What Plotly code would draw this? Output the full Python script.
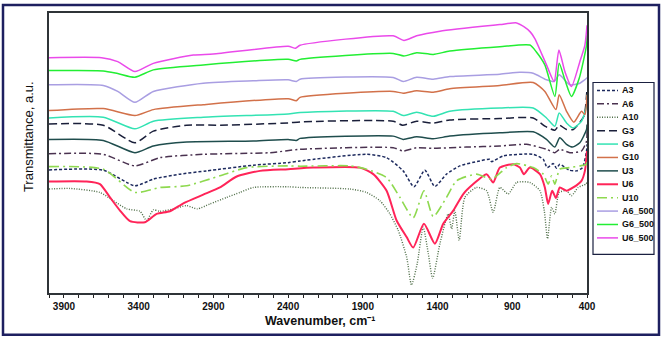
import plotly.graph_objects as go

# ---------------- data (wavenumber cm-1, transmittance a.u.) ----------------
U6_500_wn = [4000, 3648, 3540, 3425, 3302, 3034, 2901, 2400, 2350, 2320, 1697, 1625, 1540, 1384, 983, 871, 820, 780, 749, 671, 620, 588, 548, 504, 448, 414, 400]
U6_500_t = [244, 244, 240, 230, 238.3, 246.7, 247.7, 255.5, 253.5, 256.5, 266, 261.3, 266, 270.7, 277.3, 279, 275, 270, 263.3, 236.7, 220, 251.7, 230, 215, 240, 256.7, 276.7]

G6_500_wn = [4000, 3637, 3540, 3425, 3302, 2968, 2400, 2345, 2320, 1697, 1625, 1540, 1429, 1318, 983, 782, 740, 682, 615, 586, 548, 504, 452, 403, 400]
G6_500_t = [231, 230.7, 228, 224.3, 231.7, 236.7, 242.3, 240.7, 242.3, 248.3, 245.7, 249, 247.3, 250.7, 255, 256.7, 250, 236.7, 205, 238.3, 221.7, 205, 223.3, 256.7, 266.7]

A6_500_wn = [4000, 3637, 3540, 3425, 3302, 2968, 2633, 2400, 2345, 2320, 1697, 1630, 1540, 1429, 1318, 983, 849, 760, 671, 620, 586, 515, 448, 403, 400]
A6_500_t = [216.7, 216, 210, 199, 210, 218.3, 220.7, 221.7, 220, 222.3, 224, 220, 224.3, 222.3, 225, 227.3, 229.3, 228.3, 221.7, 220, 226.7, 216.7, 218.3, 223.3, 224]

G10_wn = [4000, 3637, 3425, 3302, 2968, 2400, 2345, 2320, 1697, 1630, 1540, 1429, 1318, 983, 760, 682, 608, 586, 537, 488, 437, 414, 400]
G10_t = [190.7, 192.7, 185.7, 191.7, 196.7, 202.7, 200.7, 204, 210, 208.3, 210.7, 209.3, 212.7, 216, 219, 210, 191.7, 206.7, 190, 179, 190, 186.7, 206.7]

G6_wn = [4000, 3637, 3425, 3302, 2968, 2400, 2320, 1697, 1630, 1540, 1429, 1318, 983, 760, 671, 615, 586, 537, 492, 437, 403, 400]
G6_t = [183.3, 184, 172.3, 180, 184, 187.3, 188.7, 190, 185.7, 189, 185, 190, 193.3, 193.3, 183.3, 175, 188.3, 178.3, 173.3, 180, 195, 206.7]

G3_wn = [4000, 3637, 3425, 3302, 3079, 2856, 2400, 2320, 1697, 1634, 1540, 1429, 1318, 983, 760, 682, 615, 586, 537, 492, 421, 400]
G3_t = [177.3, 176, 158.3, 170, 176, 176, 178.3, 179.3, 180, 176, 180, 178, 181.3, 182.7, 183.3, 175, 171, 176, 171.7, 171.7, 185, 213.3]

U3_wn = [4000, 3637, 3425, 3302, 3079, 2633, 2400, 2345, 2320, 1697, 1630, 1540, 1429, 1318, 983, 760, 671, 615, 582, 537, 497, 448, 403, 400]
U3_t = [161.7, 160.7, 148.3, 155, 159, 160, 161.7, 160.7, 162.7, 165, 161.7, 164.3, 162.3, 165, 168.3, 169.3, 161.7, 154, 163.3, 156.7, 154, 158.3, 171.7, 176.7]

A6_wn = [4000, 3637, 3425, 3257, 2968, 2521, 2320, 1697, 1630, 1540, 1429, 1207, 983, 805, 671, 615, 582, 515, 437, 403, 400]
A6_t = [147.3, 146.7, 135, 143.3, 146.7, 148.3, 151.7, 153.3, 150, 153.3, 152.7, 154, 155, 156.7, 151.7, 148.3, 151.7, 148.3, 150, 160, 170]

A3_wn = [4000, 3637, 3425, 3302, 3124, 2945, 2633, 2400, 2320, 1875, 1741, 1630, 1558, 1485, 1418, 1340, 1251, 1117, 1050, 1039, 961, 760, 693, 666, 626, 604, 582, 519, 470, 430, 403, 400]
A3_t = [131, 130.7, 115, 121.7, 126.7, 130, 135.7, 138.3, 140, 146.7, 143.3, 130, 114, 130.7, 114.3, 126.7, 135, 140, 141.7, 139.3, 145, 146.7, 141.7, 133.3, 137.3, 132.7, 136.7, 130.7, 130, 133.3, 150, 156.7]

U10_wn = [4000, 3637, 3425, 3257, 3079, 2856, 2678, 2400, 2320, 1986, 1875, 1741, 1652, 1563, 1491, 1429, 1340, 1273, 1139, 1039, 938, 871, 760, 693, 660, 637, 615, 582, 515, 448, 403, 400]
U10_t = [134.3, 131.7, 108.3, 113.3, 115, 125, 133.3, 135, 134.7, 135, 131.7, 123.3, 103.3, 82.7, 110, 84, 103.3, 120, 126.7, 121.7, 133.3, 137.3, 133.3, 126.7, 116.7, 125, 116.7, 131.7, 133.3, 135, 136.7, 143.3]

U6_wn = [4000, 3748, 3659, 3592, 3525, 3458, 3358, 3280, 3191, 3101, 2968, 2856, 2744, 2588, 2400, 2232, 1920, 1830, 1741, 1674, 1607, 1563, 1491, 1418, 1362, 1295, 1228, 1161, 1072, 1028, 983, 894, 849, 822, 782, 715, 682, 660, 633, 608, 582, 537, 492, 437, 414, 400]
U6_t = [119.3, 119.3, 116.7, 103.3, 90, 79.3, 78.3, 86.7, 89.3, 97.3, 106, 113.3, 124.3, 130, 131.7, 133.3, 133.3, 126.7, 110, 80, 63.3, 52.7, 76.7, 56.7, 76.7, 90, 106.7, 116.7, 126.7, 118.3, 133.3, 136.7, 133.3, 126.7, 133.3, 126.7, 113.3, 96.7, 110, 102.7, 113.3, 110, 113.3, 120, 130, 150]

A10_wn = [4000, 3860, 3659, 3570, 3480, 3391, 3347, 3302, 3257, 3168, 3079, 3008, 2923, 2811, 2722, 2633, 2400, 2320, 1986, 1875, 1786, 1719, 1663, 1607, 1574, 1536, 1496, 1462, 1433, 1384, 1329, 1306, 1284, 1255, 1217, 1139, 1072, 1028, 983, 927, 871, 782, 715, 686, 664, 637, 615, 586, 537, 504, 459, 408, 400]
A10_t = [111.7, 112.3, 108.3, 100, 91.7, 89.3, 80, 90.7, 89.3, 91.7, 95, 91.7, 96.7, 103.3, 108.3, 113.3, 114, 113.3, 111.7, 108.3, 100, 86.7, 70, 43.3, 15, 36.7, 73.3, 46.7, 21.7, 56.7, 86.7, 71.7, 90, 60, 103.3, 113.3, 110, 88.3, 113.3, 106.7, 118.3, 118.3, 110, 90, 61.7, 93.3, 86.7, 108.3, 110, 105, 113.3, 116.7, 118.3]

names = ["A3", "A6", "A10", "G3", "G6", "G10", "U3", "U6", "U10", "A6_500", "G6_500", "U6_500"]
x_data = [A3_wn, A6_wn, A10_wn, G3_wn, G6_wn, G10_wn, U3_wn, U6_wn, U10_wn, A6_500_wn, G6_500_wn, U6_500_wn]
y_data = [A3_t, A6_t, A10_t, G3_t, G6_t, G10_t, U3_t, U6_t, U10_t, A6_500_t, G6_500_t, U6_500_t]

# ---------------- styles ----------------
colors = ["#1d2a5e", "#4a3250", "#4f6e48", "#1a1f3a", "#33e3b3", "#d2714a",
          "#1f4d4d", "#ff2458", "#8ed94f", "#a99ee2", "#22ee33", "#ea4aea"]
dashes = ["3px,2px", "7px,3px,2px,3px", "1px,1.5px", "8px,4px", "solid", "solid",
          "solid", "solid", "10px,4px,2px,4px", "solid", "solid", "solid"]
widths = [1.5, 1.5, 1.4, 1.5, 1.5, 1.5, 1.5, 2.0, 1.6, 1.5, 1.5, 1.5]

W, H = 662, 339
L, R, T, B = 49, 587, 11, 293  # plot area in pixels
pw, ph = R - L, B - T


def px(x):
    return (x - L) / pw


def py(y):
    return (B - y) / ph


fig = go.Figure()
for i in range(len(names)):
    fig.add_trace(go.Scatter(
        x=x_data[i], y=y_data[i], mode="lines", name=names[i],
        line=dict(color=colors[i], dash=dashes[i], width=widths[i], shape="spline", smoothing=0.6),
        showlegend=False, hoverinfo="skip"))

shapes = []
annotations = []
# outer navy border
shapes.append(dict(type="rect", xref="paper", yref="paper",
                   x0=px(3), x1=px(659), y0=py(335), y1=py(3),
                   line=dict(color="#1e2060", width=2.5), layer="above"))
# legend box
lx0, lx1, ly0, ly1 = 593, 654, 81, 254
shapes.append(dict(type="rect", xref="paper", yref="paper",
                   x0=px(lx0), x1=px(lx1), y0=py(ly1), y1=py(ly0),
                   line=dict(color="#1a2040", width=1.2), fillcolor="white", layer="above"))
for i, n in enumerate(names):
    yy = 89 + i * 13.5
    shapes.append(dict(type="line", xref="paper", yref="paper",
                       x0=px(597), x1=px(618), y0=py(yy), y1=py(yy),
                       line=dict(color=colors[i], dash=dashes[i], width=widths[i]), layer="above"))
    annotations.append(dict(xref="paper", yref="paper", x=px(620), y=py(yy),
                            text=n, showarrow=False, xanchor="left", yanchor="middle",
                            font=dict(family="Liberation Sans", size=9, color="#111", weight="bold")))

# axis titles placed like the original
annotations.append(dict(xref="paper", yref="paper", x=px(28), y=py(136),
                        text="Transmittance, a.u.", textangle=-90, showarrow=False,
                        xanchor="center", yanchor="middle",
                        font=dict(family="Liberation Sans", size=13, color="#111")))
annotations.append(dict(xref="paper", yref="paper", x=px(320), y=py(321),
                        text="Wavenumber, cm⁻¹", showarrow=False,
                        xanchor="center", yanchor="middle",
                        font=dict(family="Liberation Sans", size=12.5, color="#111", weight="bold")))

fig.update_layout(
    width=W, height=H,
    margin=dict(l=L, r=W - R, t=T, b=H - B),
    paper_bgcolor="white", plot_bgcolor="white",
    shapes=shapes, annotations=annotations,
    showlegend=False,
    xaxis=dict(range=[4000, 400], tickmode="linear", tick0=400, dtick=500,
               ticks="outside", ticklen=3, tickwidth=1, tickcolor="#222",
               minor=dict(dtick=100, tick0=400, ticks="outside", ticklen=3, tickcolor="#222"),
               showline=True, linecolor="#2f3438", linewidth=1.5, mirror=True,
               showgrid=False, zeroline=False,
               tickfont=dict(family="Liberation Sans", size=10, color="#111", weight="bold")),
    yaxis=dict(range=[7, 289], showticklabels=False, ticks="", showgrid=False, zeroline=False,
               showline=True, linecolor="#2f3438", linewidth=1.5, mirror=True),
)

fig.write_html("out.html")
